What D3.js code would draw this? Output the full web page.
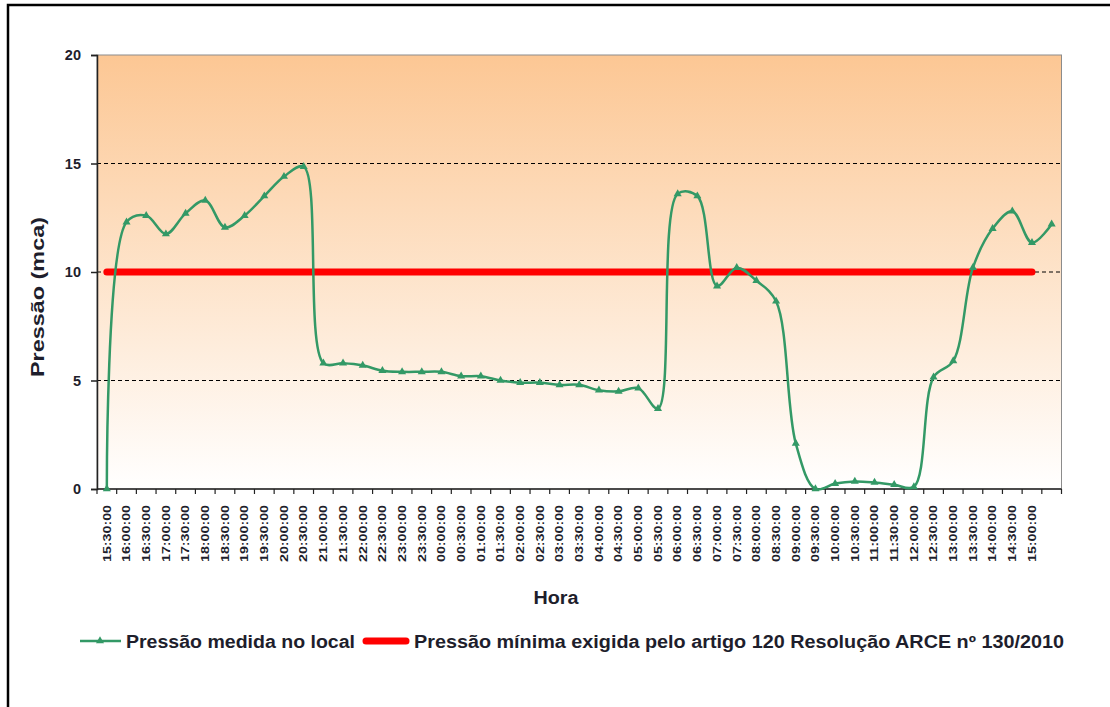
<!DOCTYPE html>
<html>
<head>
<meta charset="utf-8">
<script src="https://cdn.jsdelivr.net/npm/d3@7"></script>
<style>
  body { margin: 0; background: #fff; }
  text { font-family: "Liberation Sans", Arial, sans-serif; font-weight: bold; fill: #1e1e2c; }
</style>
</head>
<body>
<script>
// categories (one extra unlabelled slot at the end, as in the original)
var horas = ["15:30:00","16:00:00","16:30:00","17:00:00","17:30:00","18:00:00","18:30:00","19:00:00",
  "19:30:00","20:00:00","20:30:00","21:00:00","21:30:00","22:00:00","22:30:00","23:00:00","23:30:00",
  "00:00:00","00:30:00","01:00:00","01:30:00","02:00:00","02:30:00","03:00:00","03:30:00","04:00:00",
  "04:30:00","05:00:00","05:30:00","06:00:00","06:30:00","07:00:00","07:30:00","08:00:00","08:30:00",
  "09:00:00","09:30:00","10:00:00","10:30:00","11:00:00","11:30:00","12:00:00","12:30:00","13:00:00",
  "13:30:00","14:00:00","14:30:00","15:00:00",""];

var pressaoLocal = [0, 12.3, 12.6, 11.75, 12.7, 13.3, 12.05, 12.6, 13.5, 14.4, 14.85,
  5.8, 5.8, 5.7, 5.45, 5.4, 5.4, 5.4, 5.2, 5.2, 5.0, 4.9, 4.9, 4.8, 4.8, 4.55, 4.5, 4.65, 3.7,
  13.6, 13.5, 9.35, 10.2, 9.6, 8.65, 2.1, 0, 0.25, 0.35, 0.3, 0.2, 0.1,
  5.15, 5.9, 10.2, 12.0, 12.8, 11.35, 12.2];

var pressaoMinima = [10,10,10,10,10,10,10,10,10,10,10,10,10,10,10,10,10,10,10,10,10,10,10,10,
  10,10,10,10,10,10,10,10,10,10,10,10,10,10,10,10,10,10,10,10,10,10,10,10];

var yTicks = [0, 5, 10, 15, 20];
var gridValues = [5, 10, 15];

var margin = {left: 97, top: 55};
var width = 964.5, height = 434;

var svg = d3.select("body").append("svg")
  .attr("width", 1110)
  .attr("height", 707);

// outer frame
svg.append("rect")
  .attr("x", 8).attr("y", 5)
  .attr("width", 1120).attr("height", 720)
  .attr("fill", "none")
  .attr("stroke", "#000")
  .attr("stroke-width", 2.5);

var defs = svg.append("defs");
var grad = defs.append("linearGradient")
  .attr("id", "bg").attr("x1", 0).attr("y1", 0).attr("x2", 0).attr("y2", 1);
grad.append("stop").attr("offset", "0%").attr("stop-color", "#fcc794");
grad.append("stop").attr("offset", "100%").attr("stop-color", "#ffffff");

var g = svg.append("g")
  .attr("transform", "translate(" + margin.left + "," + margin.top + ")");

var x = d3.scaleBand()
  .domain(d3.range(horas.length))
  .range([0, width]);

var y = d3.scaleLinear()
  .domain([0, 20])
  .range([height, 0]);

function cx(i) { return x(i) + x.bandwidth() / 2; }

// plot area
g.append("rect")
  .attr("width", width).attr("height", height)
  .attr("fill", "url(#bg)")
  .attr("stroke", "#8c8c8c")
  .attr("stroke-width", 1);

// dashed grid
g.selectAll(".grid")
  .data(gridValues)
  .enter().append("line")
  .attr("class", "grid")
  .attr("x1", 0).attr("x2", width)
  .attr("y1", function(d) { return y(d); })
  .attr("y2", function(d) { return y(d); })
  .attr("stroke", "#000")
  .attr("stroke-width", 1)
  .attr("stroke-dasharray", "4,3");

// y axis
var yAxis = g.append("g")
  .call(d3.axisLeft(y).tickValues(yTicks).tickSize(6).tickPadding(10));
yAxis.select(".domain").attr("stroke", "#222").attr("stroke-width", 1.5);
yAxis.selectAll(".tick line").attr("stroke", "#222").attr("stroke-width", 1.5);
yAxis.selectAll("text")
  .attr("font-size", "14.5px")
  .attr("font-family", "Liberation Sans, Arial, sans-serif")
  .attr("font-weight", "bold")
  .attr("fill", "#1e1e2c");

// x axis: ticks at band edges
var xAxis = g.append("g").attr("transform", "translate(0," + height + ")");
xAxis.append("line")
  .attr("x1", 0).attr("x2", width)
  .attr("stroke", "#222").attr("stroke-width", 1.5);
xAxis.selectAll(".xt")
  .data(d3.range(horas.length + 1))
  .enter().append("line")
  .attr("class", "xt")
  .attr("x1", function(d) { return d * x.bandwidth(); })
  .attr("x2", function(d) { return d * x.bandwidth(); })
  .attr("y1", 0).attr("y2", 5)
  .attr("stroke", "#222").attr("stroke-width", 1.2);
xAxis.selectAll(".xl")
  .data(horas.filter(function(h) { return h !== ""; }))
  .enter().append("text")
  .attr("class", "xl")
  .attr("transform", function(d, i) { return "translate(" + cx(i) + ",16) rotate(-90)"; })
  .attr("text-anchor", "end")
  .attr("dy", "0.36em")
  .attr("font-size", "10.5px")
  .attr("textLength", 57)
  .attr("lengthAdjust", "spacingAndGlyphs")
  .text(function(d) { return d; });

// axis titles
svg.append("text")
  .attr("transform", "translate(44,297) rotate(-90)")
  .attr("text-anchor", "middle")
  .attr("font-size", "18px")
  .attr("textLength", 160)
  .attr("lengthAdjust", "spacingAndGlyphs")
  .text("Pressão (mca)");

svg.append("text")
  .attr("x", 556).attr("y", 604)
  .attr("text-anchor", "middle")
  .attr("font-size", "18px")
  .attr("textLength", 45)
  .attr("lengthAdjust", "spacingAndGlyphs")
  .text("Hora");

// minimum pressure line
var line = d3.line()
  .x(function(d, i) { return cx(i); })
  .y(function(d) { return y(d); });

g.append("path")
  .datum(pressaoMinima)
  .attr("d", line)
  .attr("fill", "none")
  .attr("stroke", "#ff0000")
  .attr("stroke-width", 7)
  .attr("stroke-linecap", "round");

// measured pressure, smoothed
var smooth = d3.line()
  .x(function(d, i) { return cx(i); })
  .y(function(d) { return y(d); })
  .curve(d3.curveCatmullRom.alpha(0.5));

g.append("path")
  .datum(pressaoLocal)
  .attr("d", smooth)
  .attr("fill", "none")
  .attr("stroke", "#339966")
  .attr("stroke-width", 2.5);

var tri = d3.symbol().type(d3.symbolTriangle).size(28);
g.selectAll(".mk")
  .data(pressaoLocal)
  .enter().append("path")
  .attr("class", "mk")
  .attr("d", tri)
  .attr("transform", function(d, i) { return "translate(" + cx(i) + "," + y(d) + ")"; })
  .attr("fill", "#339966");

// legend
var leg = svg.append("g");
leg.append("line")
  .attr("x1", 80).attr("x2", 121).attr("y1", 641).attr("y2", 641)
  .attr("stroke", "#339966").attr("stroke-width", 2.5);
leg.append("path")
  .attr("d", tri)
  .attr("transform", "translate(100,641)")
  .attr("fill", "#339966");
leg.append("text")
  .attr("x", 126).attr("y", 648)
  .attr("font-size", "18px")
  .attr("textLength", 229)
  .attr("lengthAdjust", "spacingAndGlyphs")
  .text("Pressão medida no local");

leg.append("line")
  .attr("x1", 366).attr("x2", 406).attr("y1", 641).attr("y2", 641)
  .attr("stroke", "#ff0000").attr("stroke-width", 7)
  .attr("stroke-linecap", "round");
leg.append("text")
  .attr("x", 414).attr("y", 648)
  .attr("font-size", "18px")
  .attr("textLength", 650)
  .attr("lengthAdjust", "spacingAndGlyphs")
  .text("Pressão mínima exigida pelo artigo 120 Resolução ARCE nº 130/2010");
</script>
</body>
</html>
